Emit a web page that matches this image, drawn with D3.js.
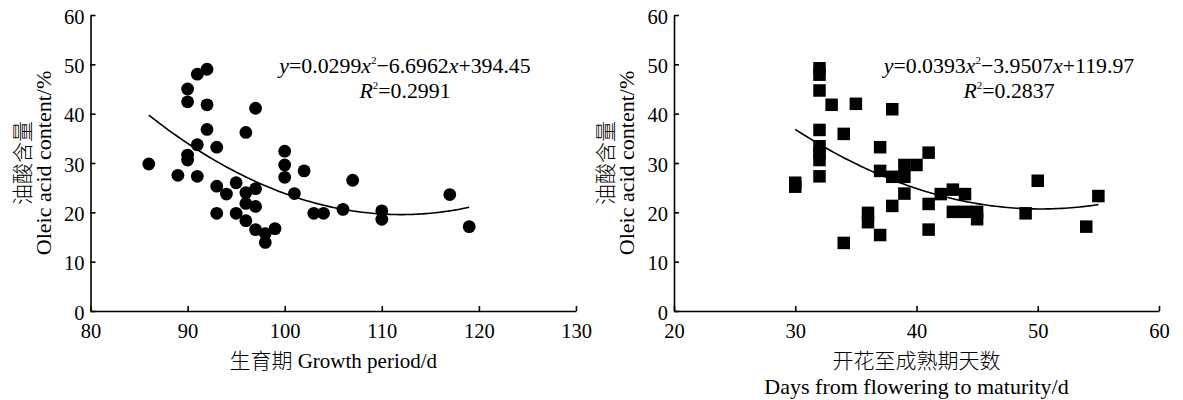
<!DOCTYPE html>
<html>
<head>
<meta charset="utf-8">
<script src="https://cdn.jsdelivr.net/npm/d3@7"></script>
<style>
  body { margin: 0; background: #fff; }
  svg { display: block; }
  text { font-family: "Liberation Serif", "Noto Sans CJK SC", serif; fill: #000; }
  tspan.cjk { font-family: "Noto Sans CJK SC", sans-serif; font-weight: 300; }
</style>
</head>
<body>
<div id="chart"></div>
<script>
var width = 1183
var height = 400

// left panel: growth period vs oleic acid
var growthX = [86, 89, 90, 90, 90, 90, 91, 91, 91, 92, 92, 92, 93, 93, 93, 94, 95, 95, 96, 96, 96, 96,
               97, 97, 97, 97, 98, 98, 99, 100, 100, 100, 101, 102, 103, 104, 106, 107, 110, 110, 117, 119]
var growthY = [29.8, 27.5, 45, 42.4, 31.6, 30.6, 48, 33.7, 27.3, 49, 41.8, 36.8, 33.2, 25.3, 19.8, 23.7, 26, 19.8, 36.2, 24, 21.8, 18.3,
               41.1, 24.8, 21.2, 16.5, 15.7, 13.9, 16.7, 32.4, 29.6, 27.1, 23.8, 28.4, 19.8, 19.8, 20.6, 26.5, 20.3, 18.6, 23.6, 17.1]
var growthFit = [0.0299, -6.6962, 394.45]
var growthTicks = [80, 90, 100, 110, 120, 130]

// right panel: days from flowering to maturity vs oleic acid
var flowerX = [30, 30, 32, 32, 32, 32, 32, 32, 32, 32, 33, 34, 34, 35, 36, 36, 37, 37, 37, 38, 38, 38,
               39, 39, 39, 40, 41, 41, 41, 42, 43, 43, 44, 44, 45, 45, 49, 50, 54, 55]
var flowerY = [26, 25.2, 49.2, 47.9, 44.7, 36.7, 33.4, 32, 30.6, 27.3, 41.8, 35.9, 13.8, 42, 19.9, 18, 33.2, 28.4, 15.4, 40.9, 27.2, 21.3,
               29.6, 27.2, 23.8, 29.6, 32.1, 21.7, 16.5, 23.7, 24.6, 20.1, 23.7, 20.1, 20.1, 18.6, 19.8, 26.4, 17.1, 23.3]
var flowerFit = [0.0393, -3.9507, 119.97]
var flowerTicks = [20, 30, 40, 50, 60]

var oleicTicks = [0, 10, 20, 30, 40, 50, 60]

var svg = d3.select('#chart').append('svg')
    .attr('width', width)
    .attr('height', height)

// puts chinese and latin runs in separate tspans so each gets its own font
function mixedText(sel, str) {
    str.split(/([\u4e00-\u9fff]+)/).filter(s => s.length).forEach(s => {
        var t = sel.append('tspan').text(s)
        if (/[\u4e00-\u9fff]/.test(s)) t.attr('class', 'cjk')
    })
}

function drawPanel(p) {
    var xScale = d3.scaleLinear().domain(d3.extent(p.xTicks)).range([p.left, p.right])
    var yScale = d3.scaleLinear().domain([0, 60]).range([311, 15])

    var g = svg.append('g')

    var xAxis = d3.axisBottom(xScale).tickValues(p.xTicks).tickSize(-5).tickSizeOuter(0).tickPadding(12)
    var yAxis = d3.axisLeft(yScale).tickValues(oleicTicks).tickSize(-5).tickSizeOuter(0).tickPadding(6)

    var gx = g.append('g').attr('transform', 'translate(0,' + yScale(0) + ')').call(xAxis)
    var gy = g.append('g').attr('transform', 'translate(' + xScale(p.xTicks[0]) + ',0)').call(yAxis)

    ;[gx, gy].forEach(a => {
        a.selectAll('path, line').attr('stroke', '#000').attr('stroke-width', 1.6)
        a.selectAll('text').style('font-size', '20.5px').attr('fill', '#000')
    })
    gy.selectAll('text').attr('dy', '0.4em')

    // fitted quadratic from the equation printed on the chart
    var c = p.fit
    var xs = d3.range(d3.min(p.xs), d3.max(p.xs) + 0.01, 0.25)
    var line = d3.line()
        .x(d => xScale(d))
        .y(d => yScale(c[0] * d * d + c[1] * d + c[2]))
    g.append('path')
        .datum(xs)
        .attr('d', line)
        .attr('fill', 'none')
        .attr('stroke', '#000')
        .attr('stroke-width', 1.6)

    var pts = p.xs.map((x, i) => [x, p.ys[i]])
    if (p.marker === 'circle') {
        g.selectAll('circle.pt').data(pts).enter().append('circle')
            .attr('class', 'pt')
            .attr('cx', d => xScale(d[0]))
            .attr('cy', d => yScale(d[1]))
            .attr('r', 6.4)
            .attr('fill', '#000')
    } else {
        var s = 12.5
        g.selectAll('rect.pt').data(pts).enter().append('rect')
            .attr('class', 'pt')
            .attr('x', d => xScale(d[0]) - s / 2)
            .attr('y', d => yScale(d[1]) - s / 2)
            .attr('width', s)
            .attr('height', s)
            .attr('fill', '#000')
    }

    // equation and R2
    var eq = g.append('text')
        .attr('x', p.eqX).attr('y', 73)
        .attr('text-anchor', 'middle')
        .style('font-size', '21.8px')
    p.eqParts.forEach(part => {
        var t = eq.append('tspan').text(part.t)
        if (part.i) t.style('font-style', 'italic')
        if (part.sup) t.style('font-size', '11px').attr('dy', -9)
        if (part.down) t.attr('dy', 9)
    })
    var r2 = g.append('text')
        .attr('x', p.eqX).attr('y', 98)
        .attr('text-anchor', 'middle')
        .style('font-size', '21.8px')
    r2.append('tspan').text('R').style('font-style', 'italic')
    r2.append('tspan').text('2').style('font-size', '11px').attr('dy', -9)
    r2.append('tspan').text('=' + p.r2).attr('dy', 9)

    // y axis title, two lines
    var ylab = g.append('g')
        .attr('transform', 'translate(' + (p.left - 61) + ',163) rotate(-90)')
    ylab.append('text').attr('text-anchor', 'middle').attr('y', 0)
        .style('font-size', '21px').call(mixedText, '油酸含量')
    ylab.append('text').attr('text-anchor', 'middle').attr('y', 21)
        .style('font-size', '22px').text('Oleic acid content/%')

    // x axis title
    var mid = (p.left + p.right) / 2
    p.xTitle.forEach((t, i) => {
        g.append('text')
            .attr('x', mid).attr('y', 368 + i * 26)
            .attr('text-anchor', 'middle')
            .style('font-size', i === 0 ? '21px' : '22px')
            .call(mixedText, t)
    })
}

drawPanel({
    left: 90.5, right: 576,
    xTicks: growthTicks, xs: growthX, ys: growthY, fit: growthFit,
    marker: 'circle',
    eqX: 405,
    eqParts: [{t: 'y', i: true}, {t: '=0.0299'}, {t: 'x', i: true}, {t: '2', sup: true},
              {t: '\u22126.6962', down: true}, {t: 'x', i: true}, {t: '+394.45'}],
    r2: '0.2991',
    xTitle: ['生育期 Growth period/d']
})

drawPanel({
    left: 674, right: 1159,
    xTicks: flowerTicks, xs: flowerX, ys: flowerY, fit: flowerFit,
    marker: 'square',
    eqX: 1009,
    eqParts: [{t: 'y', i: true}, {t: '=0.0393'}, {t: 'x', i: true}, {t: '2', sup: true},
              {t: '\u22123.9507', down: true}, {t: 'x', i: true}, {t: '+119.97'}],
    r2: '0.2837',
    xTitle: ['开花至成熟期天数', 'Days from flowering to maturity/d']
})
</script>
</body>
</html>
